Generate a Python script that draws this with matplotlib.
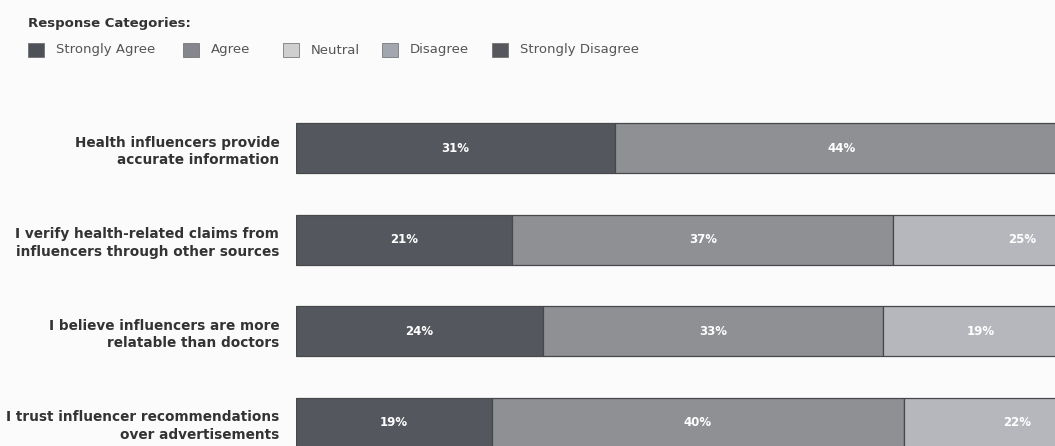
import matplotlib
matplotlib.use('Agg')
import matplotlib.pyplot as plt
from matplotlib.patches import Rectangle
import numpy as np

# Survey statements (top to bottom) and response shares in percent
statements = [
    "Health influencers provide\naccurate information",
    "I verify health-related claims from\ninfluencers through other sources",
    "I believe influencers are more\nrelatable than doctors",
    "I trust influencer recommendations\nover advertisements",
]
categories = ["Strongly Agree", "Agree", "Neutral", "Disagree", "Strongly Disagree"]

strongly_agree    = [31, 21, 24, 19]
agree             = [44, 37, 33, 40]
neutral           = [15, 25, 19, 22]
disagree          = [7, 12, 16, 13]
strongly_disagree = [3, 5, 8, 6]

bar_colors    = ["#54575d", "#8f9094", "#b5b7bc", "#a0a4ab", "#5a5c62"]
legend_colors = ["#4e5157", "#85878c", "#cfcfcf", "#a2a6ae", "#56585e"]

series = [strongly_agree, agree, neutral, disagree, strongly_disagree]

W, H = 1055, 446
fig = plt.figure(figsize=(W / 100, H / 100), dpi=100)
fig.patch.set_facecolor("#fbfbfb")

# axes run past the right edge of the canvas, so 100% lies off-screen
left_px, full_px = 296, 1030
top_px, row_px = 102.5, 91.5
ax = fig.add_axes([left_px / W, (H - top_px - 4 * row_px) / H,
                   full_px / W, 4 * row_px / H])
ax.set_facecolor("none")

# only label segments whose centre is still on the canvas
visible_pct = (W - left_px) / full_px * 100 - 1.5

y = np.arange(len(statements))
left = np.zeros(len(statements))
for vals, color in zip(series, bar_colors):
    vals = np.array(vals, dtype=float)
    ax.barh(y, vals, left=left, height=0.55, color=color,
            edgecolor="#46484c", linewidth=0.9)
    for yi, l, v in zip(y, left, vals):
        if l + v / 2 < visible_pct:
            ax.text(l + v / 2, yi, f"{int(v)}%", ha="center", va="center",
                    color="white", fontsize=8.5, fontweight="bold")
    left += vals

ax.set_xlim(0, 100)
ax.set_ylim(3.5, -0.5)
ax.set_yticks(y)
ax.set_yticklabels(statements, fontsize=9.8, fontweight="bold", color="#333333",
                   linespacing=1.3)
ax.tick_params(axis="y", length=0, pad=12)
ax.tick_params(axis="x", bottom=False, labelbottom=False)
for s in ax.spines.values():
    s.set_visible(False)

# legend header and swatches
fig.text(28 / W, 1 - 24 / H, "Response Categories:", fontsize=9.5,
         fontweight="bold", color="#333333", va="center", ha="left")
legend_x = [28, 183, 283, 382, 492]
for x0, name, color in zip(legend_x, categories, legend_colors):
    fig.patches.append(Rectangle((x0 / W, 1 - 57 / H), 16 / W, 14 / H,
                                 transform=fig.transFigure, facecolor=color,
                                 edgecolor="#666666", linewidth=0.5))
    fig.text((x0 + 28) / W, 1 - 50 / H, name, fontsize=9.5, color="#555555",
             va="center", ha="left")

fig.savefig("out.png", dpi=100, facecolor=fig.get_facecolor())
